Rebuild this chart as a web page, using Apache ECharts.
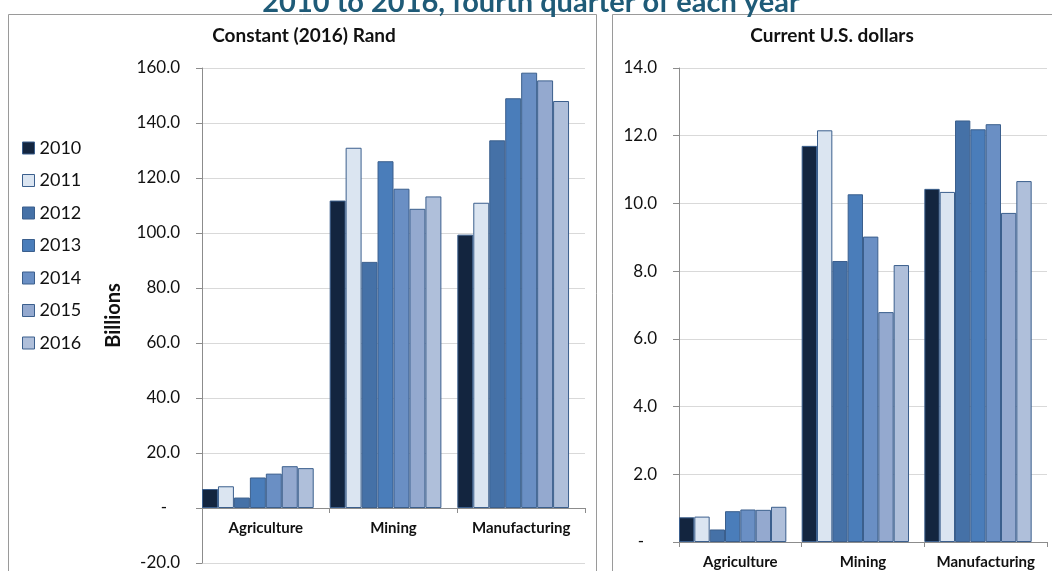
<!DOCTYPE html>
<html>
<head>
<meta charset="utf-8">
<script src="https://cdn.jsdelivr.net/npm/echarts@6/dist/echarts.min.js"></script>
<style>
  html, body { margin: 0; padding: 0; background: #fff; }
  #chart { width: 1052px; height: 571px; }
</style>
</head>
<body>
<div id="chart"></div>
<script>
// Sectors on the category axis
const sectors = ['Agriculture', 'Mining', 'Manufacturing'];
// Fourth-quarter years, one bar each
const years = ['2010', '2011', '2012', '2013', '2014', '2015', '2016'];

// Output in constant (2016) Rand, billions — [Agriculture, Mining, Manufacturing]
const rand2010 = [6.9, 111.8, 99.4];
const rand2011 = [7.9, 131.0, 111.0];
const rand2012 = [3.8, 89.5, 133.7];
const rand2013 = [11.1, 126.1, 149.0];
const rand2014 = [12.5, 116.1, 158.3];
const rand2015 = [15.2, 108.8, 155.5];
const rand2016 = [14.5, 113.3, 148.0];

// Output in current U.S. dollars, billions — [Agriculture, Mining, Manufacturing]
const usd2010 = [0.73, 11.70, 10.43];
const usd2011 = [0.75, 12.16, 10.34];
const usd2012 = [0.37, 8.30, 12.45];
const usd2013 = [0.91, 10.27, 12.19];
const usd2014 = [0.96, 9.02, 12.34];
const usd2015 = [0.95, 6.79, 9.72];
const usd2016 = [1.04, 8.18, 10.66];

// Axis ranges
const randAxis = { min: -20, max: 160, step: 20 };
const usdAxis = { min: 0, max: 14, step: 2 };

const randSeries = [rand2010, rand2011, rand2012, rand2013, rand2014, rand2015, rand2016];
const usdSeries = [usd2010, usd2011, usd2012, usd2013, usd2014, usd2015, usd2016];

const barColors = ['#13253F', '#DBE5F1', '#4571A7', '#4A7DBA', '#6A8FC4', '#94A9CF', '#AFBFDA'];
const barBorder = '#3B5F8D';
const font = 'Lato, "Open Sans", sans-serif';

const W = 1052, H = 571;
const leftGrid = { left: 202, top: 68, right: 467, bottom: 8 };
const rightGrid = { left: 679, top: 68, right: 5, bottom: 29 };

// distance of the zero line above the bottom of the left plot
const leftPlotH = H - leftGrid.top - leftGrid.bottom;
const leftZeroLift = leftPlotH * (0 - randAxis.min) / (randAxis.max - randAxis.min);

const fmt = v => (v === 0 ? '-   ' : v.toFixed(1));

function yAxisFor(gridIndex, r, extra) {
  return Object.assign({
    type: 'value', gridIndex,
    min: r.min, max: r.max, interval: r.step,
    axisLine: { show: true, lineStyle: { color: '#8C8C8C', width: 1 } },
    axisTick: { show: true, length: 6, lineStyle: { color: '#8C8C8C' } },
    axisLabel: { formatter: fmt, fontFamily: font, fontSize: 17, color: '#111', margin: 22 },
    splitLine: { show: true, lineStyle: { color: '#D9D9D9', width: 1 } }
  }, extra || {});
}

function xAxisFor(gridIndex, offset) {
  return {
    type: 'category', gridIndex, data: sectors,
    position: 'bottom', offset: offset,
    axisLine: { show: true, onZero: false, lineStyle: { color: '#8C8C8C', width: 1 } },
    axisTick: { show: true, length: 5, interval: 0, alignWithLabel: false, lineStyle: { color: '#8C8C8C' } },
    axisLabel: { interval: 0, hideOverlap: false, fontFamily: font, fontSize: 15, fontWeight: 'bold',
                 color: '#111', margin: 13 },
    splitLine: { show: false }
  };
}

function barsFor(values, axisIndex) {
  const list = years.map((y, i) => ({
    name: y, type: 'bar', xAxisIndex: axisIndex, yAxisIndex: axisIndex,
    data: values[i],
    barGap: '0%', barCategoryGap: '0%',
    itemStyle: { color: barColors[i], borderColor: barBorder, borderWidth: 1 },
    emphasis: { disabled: true },
    animation: false
  }));
  // empty eighth slot keeps each group flush with the left of its category
  list.push({
    name: 'slot', type: 'bar', xAxisIndex: axisIndex, yAxisIndex: axisIndex,
    data: [], barGap: '0%', barCategoryGap: '0%', animation: false
  });
  return list;
}

const chart = echarts.init(document.getElementById('chart'), null, { renderer: 'canvas' });

chart.setOption({
  backgroundColor: '#fff',
  animation: false,
  textStyle: { fontFamily: font },
  graphic: [
    { type: 'rect', shape: { x: 8.5, y: 14.5, width: 588, height: 600 },
      style: { fill: 'none', stroke: '#9A9A9A', lineWidth: 1 }, z: 0 },
    { type: 'rect', shape: { x: 612.5, y: 14.5, width: 500, height: 600 },
      style: { fill: 'none', stroke: '#9A9A9A', lineWidth: 1 }, z: 0 },
    { type: 'text', x: 531, y: 17,
      style: { text: '2010 to 2016, fourth quarter of each year', fontFamily: font, fontSize: 29,
               fontWeight: 'bold', fill: '#1F5B78', align: 'center', verticalAlign: 'bottom' } },
    { type: 'text', x: 304, y: 36,
      style: { text: 'Constant (2016) Rand', fontFamily: font, fontSize: 19, fontWeight: 'bold',
               fill: '#111', align: 'center', verticalAlign: 'middle' } },
    { type: 'text', x: 832, y: 36,
      style: { text: 'Current U.S. dollars', fontFamily: font, fontSize: 19, fontWeight: 'bold',
               fill: '#111', align: 'center', verticalAlign: 'middle' } }
  ],
  legend: {
    orient: 'vertical', left: 22, top: 139, padding: 0,
    data: years,
    itemWidth: 12, itemHeight: 12, itemGap: 14.5,
    icon: 'rect',
    itemStyle: { borderColor: barBorder, borderWidth: 1 },
    textStyle: { fontFamily: font, fontSize: 18, color: '#111', lineHeight: 18 },
    selectedMode: false
  },
  grid: [
    Object.assign({ outerBoundsMode: 'none' }, leftGrid),
    Object.assign({ outerBoundsMode: 'none' }, rightGrid)
  ],
  xAxis: [xAxisFor(0, -leftZeroLift), xAxisFor(1, 0)],
  yAxis: [
    yAxisFor(0, randAxis, {
      name: 'Billions', nameLocation: 'middle', nameGap: 78, nameRotate: 90,
      nameTextStyle: { fontFamily: font, fontSize: 20, fontWeight: 'bold', color: '#111' }
    }),
    yAxisFor(1, usdAxis)
  ],
  series: barsFor(randSeries, 0).concat(barsFor(usdSeries, 1))
});
</script>
</body>
</html>
